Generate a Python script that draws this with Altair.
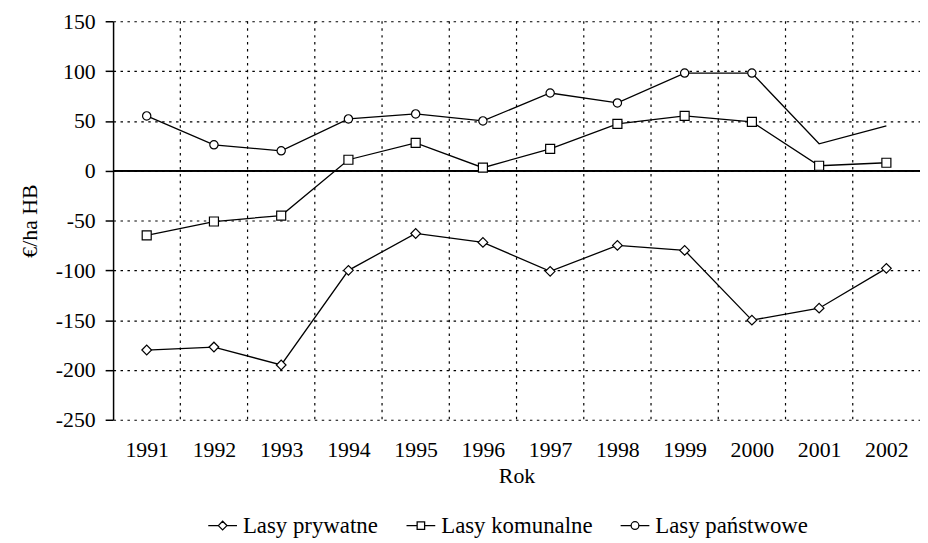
import altair as alt
import pandas as pd

years = list(range(1991, 2003))
series_names = ["Lasy prywatne", "Lasy komunalne", "Lasy państwowe"]
prywatne = [-180, -177, -195, -100, -63, -72, -101, -75, -80, -150, -138, -98]
komunalne = [-65, -51, -45, 11, 28, 3, 22, 47, 55, 49, 5, 8]
panstwowe = [55, 26, 20, 52, 57, 50, 78, 68, 98, 98, 27, 45]
y_ticks = [150, 100, 50, 0, -50, -100, -150, -200, -250]

rows = []
for name, vals in zip(series_names, [prywatne, komunalne, panstwowe]):
    for yr, v in zip(years, vals):
        rows.append({"year": yr, "value": v, "series": name})
df = pd.DataFrame(rows)
bounds = pd.DataFrame({"b": [y + 0.5 for y in years[:-1]]})

FONT = "Liberation Serif"
FS = 22
xscale = alt.Scale(domain=[years[0] - 0.5, years[-1] + 0.5], nice=False, zero=False)
yscale = alt.Scale(domain=[y_ticks[-1], y_ticks[0]], nice=False, zero=False)

xaxis = alt.Axis(values=years, format="d", ticks=False, domain=False, grid=False,
                 labelPadding=20, labelFlush=False, title="Rok", titlePadding=5)
yaxis = alt.Axis(values=y_ticks, labelExpr="toString(datum.value)", tickSize=8,
                 tickColor="black", tickWidth=1.5, domainColor="black", domainWidth=1.5,
                 labelPadding=10, grid=True, gridDash=[2.5, 4.5], gridColor="black",
                 gridWidth=1.2, gridOpacity=1, title="€/ha HB", titlePadding=14)

X = alt.X("year:Q", scale=xscale, axis=xaxis)
Y = alt.Y("value:Q", scale=yscale, axis=yaxis)

base = alt.Chart(df)

vgrid = alt.Chart(bounds).mark_rule(color="black", strokeWidth=1.2, strokeDash=[2.5, 4.5]).encode(
    x=alt.X("b:Q", scale=xscale, title="Rok")
)
zero = alt.Chart(bounds).mark_rule(color="black", strokeWidth=1.3).encode(
    y=alt.datum(0, scale=yscale)
)

line = base.mark_line(color="black", strokeWidth=1.3).encode(x=X, y=Y, detail="series:N")

points = base.transform_filter(
    "!(datum.series == 'Lasy państwowe' && datum.year >= 2001)"
).mark_point(filled=True, fill="white", stroke="black", strokeWidth=1.2, opacity=1).encode(
    x=X, y=Y,
    shape=alt.Shape("series:N", scale=alt.Scale(domain=series_names, range=["diamond", "square", "circle"]), legend=None),
    size=alt.Size("series:N", scale=alt.Scale(domain=series_names, range=[95, 70, 80]), legend=None),
)

path_d = "M-1,0H-0.3M0.3,0H1M-0.3,0L0,-0.3L0.3,0L0,0.3Z"
path_s = "M-1,0H-0.26M0.26,0H1M-0.26,-0.26H0.26V0.26H-0.26Z"
path_c = "M-1,0H-0.27M0.27,0H1M-0.27,0A0.27,0.27 0 1,0 0.27,0A0.27,0.27 0 1,0 -0.27,0Z"

legend_layer = base.transform_filter("false").mark_point(
    filled=False, stroke="black", color="black", strokeWidth=1.3, opacity=1
).encode(
    x=X, y=Y,
    shape=alt.Shape(
        "series:N",
        scale=alt.Scale(domain=series_names, range=[path_d, path_s, path_c]),
        legend=alt.Legend(
            title=None, orient="none", legendX=95, legendY=493, direction="horizontal",
            columns=3, symbolSize=841, labelOffset=5, columnPadding=25,
            symbolStrokeWidth=1.3, symbolStrokeColor="black", symbolOpacity=1,
            labelFont=FONT, labelFontSize=23, labelColor="black", labelLimit=400,
        ),
    ),
)

chart = alt.layer(vgrid, zero, line, points, legend_layer).resolve_scale(
    shape="independent", size="independent"
).properties(
    width=814, height=402, autosize="none",
    padding={"left": 106, "top": 11, "right": 0, "bottom": 130},
).configure_view(strokeWidth=0).configure_axis(
    labelFont=FONT, titleFont=FONT, labelFontSize=FS, titleFontSize=FS,
    labelColor="black", titleColor="black", titleFontWeight="normal",
)

chart.save("out.html", embed_options={"renderer": "svg", "actions": False})
